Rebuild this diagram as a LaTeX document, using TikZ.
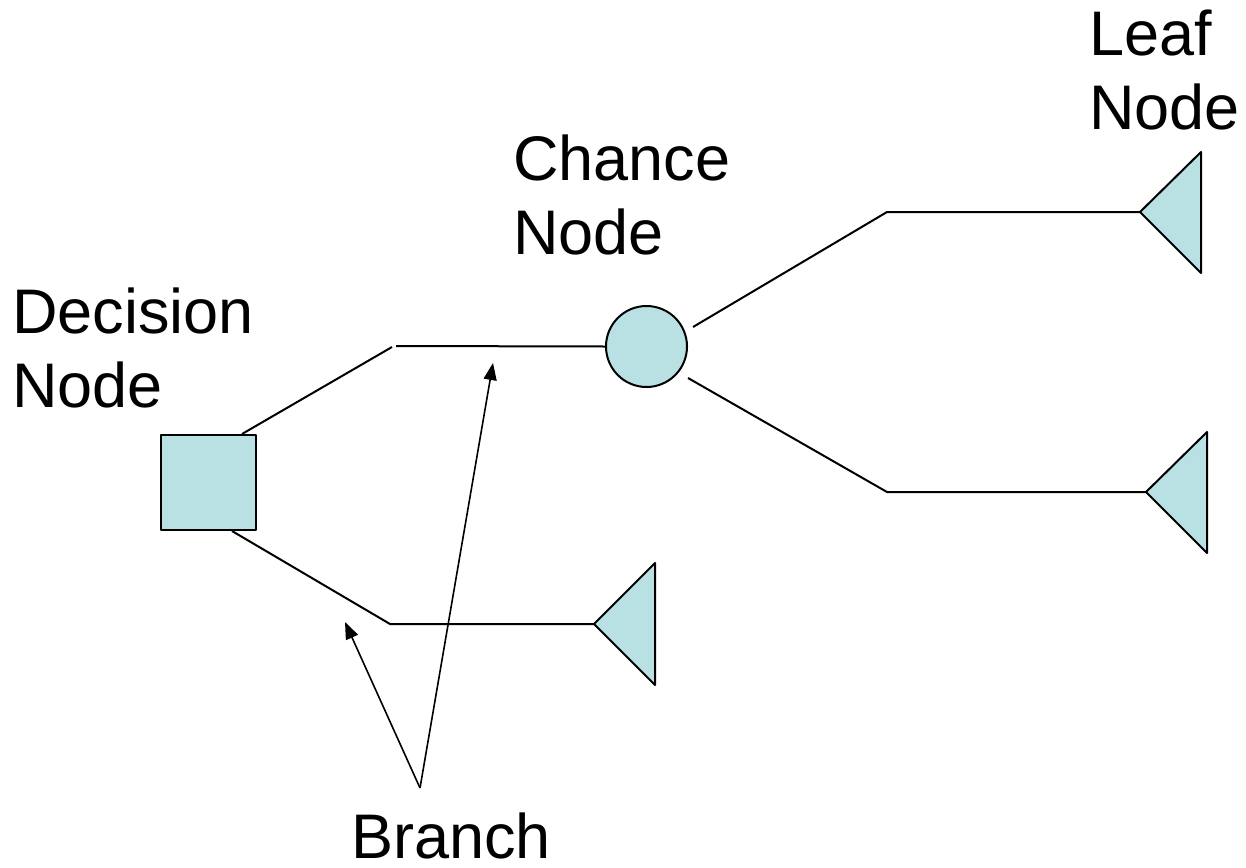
\documentclass[tikz,border=0pt]{standalone}
\usepackage{fontspec}
\setmainfont{Liberation Sans}
\usetikzlibrary{arrows.meta}
\definecolor{nodefill}{RGB}{185,224,226}
\begin{document}
\begin{tikzpicture}[x=1pt,y=-1pt,
  lbl/.style={font=\fontsize{63}{74}\selectfont, inner sep=0pt, align=left, anchor=north west},
  branchline/.style={line width=2pt},
  pointer/.style={line width=1.6pt, -{Triangle[length=17pt,width=13pt]}},
  shp/.style={draw, fill=nodefill, line width=2pt, line join=round}]
\useasboundingbox (0,0) rectangle (1246,867);

% labels
\node[lbl] (tdec) at (12,287.5) {Decision\\Node};
\node[lbl] (tcha) at (513,134.5) {Chance\\Node};
\node[lbl] (tleaf) at (1089,9.5) {Leaf\\Node};
\node[font=\fontsize{63}{74}\selectfont, inner sep=0pt, text depth=0pt, anchor=base west] (tbr) at (351,858) {Branch};

% decision and chance nodes
\node[shp, rectangle, minimum width=95pt, minimum height=95pt, inner sep=0pt] (dec) at (208.5,482.5) {};
\node[shp, circle, minimum size=81pt, inner sep=0pt] (cha) at (646.5,346.5) {};

% leaf triangles
\coordinate (l1) at (1140,212);
\draw[shp] (l1) -- (1201,152) -- (1201,273) -- cycle;
\coordinate (l2) at (1146,492);
\draw[shp] (l2) -- (1207,432) -- (1207,553) -- cycle;
\coordinate (l3) at (594,624);
\draw[shp] (l3) -- (655,563) -- (655,685) -- cycle;

% branches
\coordinate (a1) at (392,347);
\coordinate (a2) at (396,346);
\draw[branchline] ([xshift=-15pt]dec.north east) -- (a1);
\draw[branchline] (a2) -- (cha.west);
\coordinate (b1) at (390,624);
\draw[branchline] ([xshift=-25pt]dec.south east) -- (b1) -- (l3);
\coordinate (c0) at (693,327);
\coordinate (c1) at (887,212);
\draw[branchline] (c0) -- (c1) -- (l1);
\coordinate (d0) at (688,378);
\coordinate (d1) at (887,492);
\draw[branchline] (d0) -- (d1) -- (l2);

% pointers
\coordinate (src) at (420,788);
\coordinate (p1) at (345,622);
\coordinate (p2) at (493,363);
\draw[pointer] (src) -- (p1);
\draw[pointer] (src) -- (p2);
\end{tikzpicture}
\end{document}
